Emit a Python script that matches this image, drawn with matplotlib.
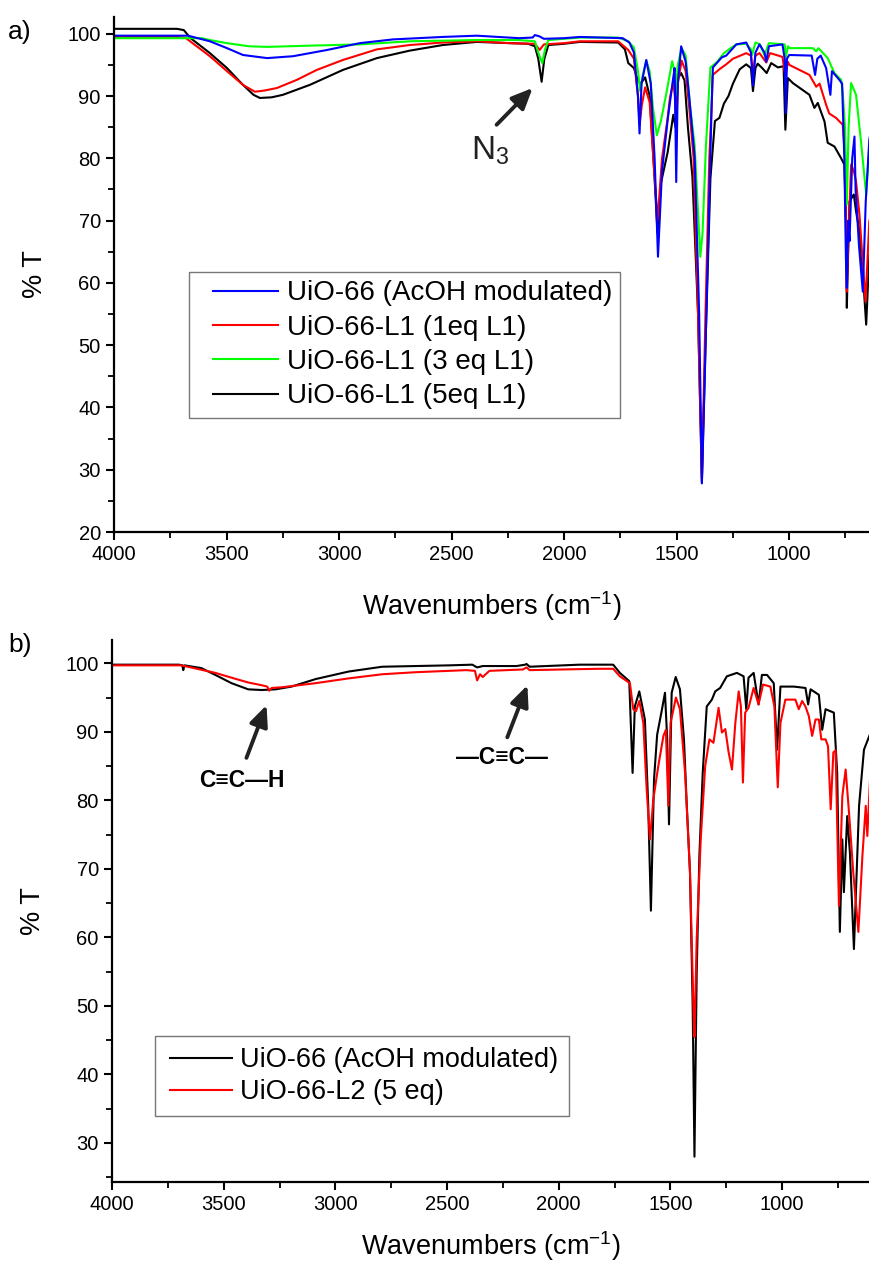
import numpy as np
import matplotlib.pyplot as plt
from matplotlib.ticker import MultipleLocator
from matplotlib.lines import Line2D
from matplotlib.legend_handler import HandlerLine2D

plt.rcParams['font.family'] = ['Liberation Sans', 'DejaVu Sans']
plt.rcParams['mathtext.default'] = 'regular'

# ---- panel a: UiO-66 / UiO-66-L1 FTIR, (wavenumber, %T) ----
a_uio66 = np.array([
    (4000, 99.7), (3671, 99.7), (3574, 98.8), (3498, 97.7), (3427, 96.6), (3320, 96.1),
    (3205, 96.4), (3054, 97.4), (2908, 98.5), (2761, 99.1), (2539, 99.5), (2388, 99.7),
    (2200, 99.3), (2140, 99.4), (2130, 99.8), (2110, 99.6), (2090, 99.2), (2000, 99.3),
    (1930, 99.5), (1740, 99.3), (1710, 98.6), (1690, 97.0), (1672, 90), (1665, 84.0),
    (1656, 92), (1635, 95.8), (1615, 92), (1598, 80), (1583, 64.2), (1565, 78),
    (1539, 86.5), (1515, 93), (1509, 94.5), (1502, 76.2), (1495, 92), (1480, 98.0),
    (1460, 95.5), (1443, 89.4), (1420, 80.2), (1400, 55), (1388, 27.8), (1375, 45),
    (1361, 65.3), (1345, 88), (1339, 94.6), (1300, 96.2), (1280, 96.5), (1235, 98.3),
    (1191, 98.6), (1170, 97), (1161, 91.7), (1150, 97), (1132, 98.3), (1110, 97),
    (1102, 95.5), (1090, 98), (1030, 98.3), (1020, 96), (1015, 87.3), (1010, 96),
    (1000, 96.6), (900, 96.5), (885, 93.4), (875, 96), (860, 96.5), (836, 94.5),
    (817, 90.2), (810, 94), (777, 92.6), (765, 92), (755, 80), (748, 64), (744, 59.2),
    (738, 70), (732, 66.7), (720, 80), (710, 83.5), (705, 75), (698, 71), (690, 66),
    (673, 58.6), (660, 73), (644, 83), (630, 86),
])
a_l1_1eq = np.array([
    (4000, 99.5), (3720, 99.5), (3680, 99.3), (3662, 98.8), (3574, 96.4), (3498, 94.0),
    (3427, 91.8), (3374, 90.7), (3330, 90.9), (3276, 91.3), (3188, 92.6), (3099, 94.2),
    (2983, 95.8), (2832, 97.5), (2686, 98.2), (2539, 98.6), (2388, 98.8), (2242, 98.5),
    (2130, 98.4), (2109, 97.4), (2090, 98.3), (2000, 98.5), (1930, 98.8), (1760, 98.8),
    (1715, 97.4), (1690, 96), (1672, 90), (1665, 85.4), (1655, 88.5), (1640, 91.4),
    (1620, 89), (1600, 78), (1585, 70), (1565, 80), (1540, 86.5), (1530, 89.7),
    (1515, 92.3), (1508, 90), (1502, 85.4), (1495, 92), (1478, 95.7), (1460, 94),
    (1440, 86.5), (1425, 80.2), (1405, 55), (1388, 28.5), (1372, 55), (1355, 80),
    (1345, 88), (1340, 93.4), (1310, 94.3), (1280, 95.1), (1250, 96.0), (1191, 96.9),
    (1170, 96.5), (1161, 93.7), (1150, 96.5), (1132, 96.9), (1102, 95.4), (1085, 96.9),
    (1030, 96.3), (1017, 93.1), (1006, 95.5), (999, 95.0), (910, 93.4), (880, 91.5),
    (865, 92.0), (836, 88.6), (822, 87.2), (792, 86.5), (762, 85.4), (750, 79),
    (744, 58.6), (738, 66), (725, 79), (713, 78), (703, 76.3), (688, 71), (661, 57),
    (644, 69.9), (630, 72),
])
a_l1_3eq = np.array([
    (4000, 99.3), (3610, 99.3), (3574, 99.0), (3498, 98.5), (3400, 98.0), (3320, 97.9),
    (3130, 98.1), (2908, 98.3), (2686, 98.8), (2388, 99.0), (2200, 99.0), (2130, 98.8),
    (2115, 97), (2097, 95.3), (2085, 97.5), (2070, 99.0), (2000, 99.2), (1930, 99.4),
    (1760, 99.4), (1715, 98.8), (1690, 97.8), (1672, 94), (1662, 90.8), (1650, 93.5),
    (1635, 95.7), (1620, 94), (1605, 88), (1588, 83.7), (1570, 86), (1545, 90.6),
    (1520, 95.6), (1510, 94), (1505, 90), (1495, 95), (1478, 97.7), (1460, 96.5),
    (1440, 88.3), (1420, 82), (1395, 64.2), (1385, 68), (1370, 82), (1350, 94.6),
    (1320, 95.5), (1290, 96.9), (1260, 97.7), (1235, 98.3), (1191, 98.4), (1170, 97.5),
    (1165, 96.6), (1150, 98.6), (1130, 98.3), (1110, 96.6), (1090, 98.5), (1020, 98.3),
    (1015, 96.3), (1005, 98.0), (999, 97.7), (895, 97.7), (880, 97.2), (870, 97.7),
    (829, 96.1), (799, 93.7), (769, 92.6), (762, 90.5), (752, 85), (744, 72.6),
    (736, 85), (725, 92.1), (703, 90.2), (681, 82.7), (658, 74.2), (644, 82), (630, 85),
])
a_l1_5eq = np.array([
    (4000, 100.8), (3720, 100.8), (3690, 100.6), (3660, 99.3), (3631, 98.5), (3574, 96.9),
    (3498, 94.5), (3427, 91.8), (3380, 90.2), (3352, 89.7), (3300, 89.8), (3250, 90.2),
    (3130, 91.8), (2983, 94.2), (2832, 96.1), (2686, 97.3), (2539, 98.2), (2388, 98.7),
    (2242, 98.5), (2160, 98.4), (2130, 98.0), (2115, 96), (2100, 92.3), (2088, 96),
    (2070, 98.2), (2000, 98.4), (1930, 98.7), (1760, 98.6), (1730, 97.5), (1715, 95.3),
    (1690, 94.5), (1672, 92.5), (1660, 92.0), (1640, 93.0), (1620, 90), (1600, 78),
    (1585, 68), (1570, 76), (1540, 81), (1515, 87), (1505, 85), (1495, 92.8),
    (1480, 93.7), (1465, 92.5), (1450, 85), (1430, 77), (1405, 55), (1388, 28),
    (1372, 50), (1350, 76.8), (1330, 86), (1310, 86.5), (1290, 88.8), (1270, 90),
    (1250, 92), (1220, 94.3), (1191, 95.1), (1170, 94.5), (1161, 90.8), (1150, 94.5),
    (1140, 95.2), (1120, 94.5), (1100, 93.7), (1080, 95.3), (1050, 94.6), (1025, 94.8),
    (1017, 84.6), (1006, 92.9), (984, 92.1), (910, 90.2), (888, 88.1), (873, 88.9),
    (843, 85.9), (829, 82.5), (799, 81.9), (769, 80), (755, 79), (748, 70), (744, 56),
    (738, 65), (732, 73.1), (713, 74.2), (703, 71.5), (688, 68.3), (670, 60),
    (658, 53.3), (644, 64.5), (630, 66),
])
labels_a = ['UiO-66 (AcOH modulated)', 'UiO-66-L1 (1eq L1)',
            'UiO-66-L1 (3 eq L1)', 'UiO-66-L1 (5eq L1)']
colors_a = ['#0000ff', '#ff0000', '#00ff00', '#000000']

# ---- panel b: UiO-66 / UiO-66-L2 ----
b_uio66 = np.array([
    (4000, 99.8), (3700, 99.8), (3685, 99.7), (3681, 99.0), (3676, 99.7), (3600, 99.3),
    (3537, 98.3), (3465, 97.1), (3390, 96.2), (3330, 96.1), (3268, 96.2), (3196, 96.6),
    (3088, 97.7), (2940, 98.8), (2790, 99.5), (2490, 99.7), (2387, 99.8), (2365, 99.4),
    (2340, 99.6), (2189, 99.6), (2150, 99.8), (2144, 99.9), (2130, 99.5), (1906, 99.8),
    (1756, 99.8), (1726, 98.6), (1684, 97.4), (1669, 84.0), (1659, 93.7), (1639, 95.9),
    (1614, 91.8), (1599, 79.2), (1587, 63.9), (1573, 83.1), (1559, 89.6), (1539, 93.0),
    (1524, 95.7), (1514, 88.9), (1506, 76.5), (1494, 95.7), (1476, 98.0), (1457, 96.2),
    (1439, 88.9), (1427, 79.7), (1412, 69.5), (1400, 50.1), (1392, 28), (1382, 54.9),
    (1370, 71.9), (1355, 84.0), (1337, 93.7), (1314, 94.7), (1299, 95.9), (1277, 96.4),
    (1247, 98.1), (1202, 98.6), (1172, 98.1), (1160, 93.3), (1150, 97.9), (1127, 98.6),
    (1105, 94.0), (1090, 98.3), (1067, 98.3), (1037, 97.1), (1022, 87.4), (1007, 96.6),
    (947, 96.6), (895, 96.4), (883, 94.0), (872, 96.2), (835, 95.4), (820, 90.3),
    (805, 93.3), (768, 92.8), (753, 84.0), (741, 60.8), (730, 74.3), (723, 66.6),
    (708, 77.7), (696, 72.4), (678, 58.3), (655, 79.2), (633, 87.4), (603, 89.9),
])
b_l2_5eq = np.array([
    (4000, 99.7), (3690, 99.7), (3620, 99.2), (3537, 98.6), (3465, 97.9), (3390, 97.2),
    (3330, 96.8), (3305, 96.6), (3296, 96.0), (3285, 96.4), (3240, 96.5), (3088, 97.1),
    (2940, 97.8), (2790, 98.4), (2640, 98.7), (2414, 99.0), (2375, 98.9), (2365, 97.5),
    (2352, 98.4), (2340, 98.0), (2310, 98.9), (2160, 99.1), (2144, 99.4), (2130, 99.0),
    (1983, 99.1), (1817, 99.2), (1756, 99.2), (1726, 98.1), (1681, 97.1), (1666, 93.3),
    (1654, 93.0), (1639, 94.5), (1621, 91.3), (1606, 81.6), (1591, 74.3), (1576, 80.2),
    (1554, 85.0), (1531, 89.4), (1520, 90.3), (1509, 79.2), (1499, 91.3), (1475, 95.0),
    (1457, 93.3), (1434, 84.0), (1412, 69.5), (1397, 50.0), (1392, 45.5), (1382, 59.8),
    (1364, 74.3), (1344, 85.0), (1325, 88.9), (1307, 88.4), (1284, 93.5), (1269, 89.9),
    (1254, 90.4), (1239, 87.0), (1224, 84.5), (1209, 91.3), (1194, 95.9), (1184, 93.7),
    (1175, 82.6), (1165, 92.8), (1150, 93.5), (1127, 96.4), (1105, 94.0), (1085, 96.9),
    (1052, 96.6), (1034, 93.7), (1019, 81.9), (1007, 91.3), (985, 94.7), (940, 94.7),
    (925, 93.3), (910, 94.5), (895, 93.7), (880, 92.3), (865, 89.4), (850, 91.8),
    (835, 91.8), (824, 88.9), (805, 88.9), (794, 87.9), (782, 78.7), (770, 87.0),
    (760, 87.3), (745, 64.6), (730, 80.6), (715, 84.5), (700, 78.2), (681, 69.5),
    (658, 60.8), (640, 71.9), (625, 79.2), (618, 74.8), (603, 85.0),
])
labels_b = ['UiO-66 (AcOH modulated)', 'UiO-66-L2 (5 eq)']
colors_b = ['#000000', '#ff0000']

ARROW = dict(arrowstyle='-|>,head_length=0.9,head_width=0.4', lw=2.8, color='#222222',
             shrinkA=0, shrinkB=0, mutation_scale=14)


def style_axis(ax, ymin, ymax, xmax, xpad):
    ax.set_xlim(4000, xmax)
    ax.set_ylim(ymin, ymax)
    ax.xaxis.set_major_locator(MultipleLocator(500))
    ax.xaxis.set_minor_locator(MultipleLocator(250))
    ax.yaxis.set_major_locator(MultipleLocator(10))
    ax.yaxis.set_minor_locator(MultipleLocator(5))
    for side in ['top', 'right']:
        ax.spines[side].set_visible(False)
    for side in ['left', 'bottom']:
        ax.spines[side].set_linewidth(1.6)
    ax.tick_params(which='major', direction='out', length=6, width=1.5, labelsize=14.5)
    ax.tick_params(which='minor', direction='out', length=4, width=1.3)
    ax.set_xlabel('Wavenumbers (cm$^{-1}$)', fontsize=19.5, labelpad=xpad)
    ax.set_ylabel('% T', fontsize=19.5, labelpad=14)


fig = plt.figure(figsize=(8.7, 12.73), dpi=100)
ax1 = fig.add_axes([114 / 870, 1 - 532 / 1273, 756 / 870, 515 / 1273])
ax2 = fig.add_axes([112 / 870, 1 - 1182 / 1273, 758 / 870, 542 / 1273])

# draw order: black underneath, blue on top
handles = {}
for data, lab, col in [(a_l1_5eq, labels_a[3], colors_a[3]),
                       (a_l1_1eq, labels_a[1], colors_a[1]),
                       (a_l1_3eq, labels_a[2], colors_a[2]),
                       (a_uio66, labels_a[0], colors_a[0])]:
    handles[lab], = ax1.plot(data[:, 0], data[:, 1], color=col, lw=1.5, label=lab)
style_axis(ax1, 20, 102.7, 641, 18)
ax1.legend([handles[l] for l in labels_a], labels_a, loc='upper left',
           bbox_to_anchor=(0.099, 0.505), fontsize=20, frameon=True, fancybox=False,
           edgecolor='#555555', handlelength=2.9, handletextpad=0.32,
           borderpad=0.3, labelspacing=0.3, borderaxespad=0,
           handler_map={Line2D: HandlerLine2D(xpad=0.57)})
ax1.annotate('', xy=(2140, 91.3), xytext=(2300, 85.4), arrowprops=ARROW)
ax1.text(2330, 81.2, 'N$_3$', fontsize=24, ha='center', va='center', color='#222222')

ax2.plot(b_uio66[:, 0], b_uio66[:, 1], color=colors_b[0], lw=1.5, label=labels_b[0])
ax2.plot(b_l2_5eq[:, 0], b_l2_5eq[:, 1], color=colors_b[1], lw=1.5, label=labels_b[1])
style_axis(ax2, 24.3, 103.4, 606, 11)
ax2.legend(loc='upper left', bbox_to_anchor=(0.0567, 0.269), fontsize=19.5,
           frameon=True, fancybox=False, edgecolor='#555555', handlelength=2.45,
           handletextpad=0.3, borderpad=0.4, labelspacing=0.22, borderaxespad=0,
           handler_map={Line2D: HandlerLine2D(xpad=0.15)})
ax2.annotate('', xy=(3308, 93.9), xytext=(3398, 86.2), arrowprops=ARROW)
ax2.annotate('', xy=(2140, 96.8), xytext=(2230, 89.2), arrowprops=ARROW)
ax2.text(3420, 82.9, 'C≡C—H', fontsize=16.5, fontweight='bold', ha='center', va='center')
ax2.text(2252, 86.2, '—C≡C—', fontsize=16.5, fontweight='bold', ha='center', va='center')

fig.text(8 / 870, 1 - 32 / 1273, 'a)', fontsize=19, ha='left', va='center')
fig.text(8 / 870, 1 - 645 / 1273, 'b)', fontsize=19, ha='left', va='center')

fig.savefig('out.png', dpi=100)
